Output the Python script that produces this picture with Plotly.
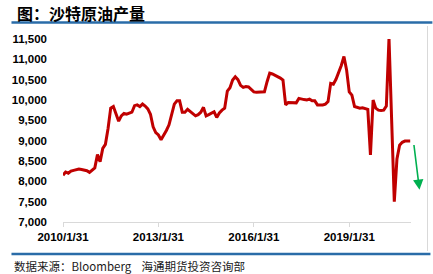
import pandas as pd
import plotly.graph_objects as go

# ---- data (thousand barrels/day), monthly from 2010-01 ----
start_month = "2010-01-31"
production = [
    8150, 8230, 8200, 8250, 8270, 8290, 8300, 8290, 8280, 8260, 8220, 8280,
    8330, 8660, 8480, 8810, 8910, 9300, 9800, 9840, 9670, 9480, 9610, 9670,
    9650, 9670, 9700, 9860, 9880, 9840, 9900, 9850, 9780, 9650, 9340, 9200,
    9140, 9020, 9120, 9250, 9390, 9670, 9900, 9980, 9980, 9700, 9700, 9770,
    9710, 9660, 9610, 9640, 9700, 9820, 9610, 9640, 9680, 9710, 9570, 9680,
    9750, 9800, 10220, 10300, 10490, 10570, 10500, 10360, 10310, 10330, 10320, 10260,
    10200, 10190, 10190, 10190, 10200, 10450, 10660, 10640, 10610, 10570, 10540, 10490,
    9880, 9940, 9940, 9930, 9930, 10040, 10020, 10010, 10000, 10020, 9980, 9980,
    9880, 9880, 9880, 9900, 9960, 10410, 10390, 10510, 10660, 10850, 11070, 10740,
    10200, 10120, 9840, 9810, 9800, 9810, 9790, 9770, 8650, 10000, 9800, 9750,
    9740, 9750, 9850, 11520, 9500, 7500, 8550, 8890, 8960, 8990, 8990, 8990,
]
tick_labels = ["2010/1/31", "2013/1/31", "2016/1/31", "2019/1/31"]
y_ticks = [7000, 7500, 8000, 8500, 9000, 9500, 10000, 10500, 11000, 11500]
arrow_target_value = 7790

title_text = "图：沙特原油产量"
source_text = "数据来源：Bloomberg    海通期货投资咨询部"

months = pd.date_range(start_month, periods=len(production), freq="ME")
month_labels = [f"{d.year}/{d.month}/{d.day}" for d in months]
idx = list(range(len(production)))
tick_vals = [month_labels.index(t) for t in tick_labels]

# ---- layout geometry (pixels) ----
W, H = 433, 274
L, R, T, B = 53, 22, 39, 52
PW, PH = W - L - R, H - T - B
X_RANGE = [0, len(production) - 0.7]
Y_RANGE = [7000, 11500]


def px_x(x):
    return (x - L) / PW


def px_y(y):
    return (H - B - y) / PH


def data_x(v):
    return (v - X_RANGE[0]) / (X_RANGE[1] - X_RANGE[0])


def data_y(v):
    return (v - Y_RANGE[0]) / (Y_RANGE[1] - Y_RANGE[0])


fig = go.Figure()
fig.add_trace(go.Scatter(
    x=idx, y=production, mode="lines",
    line=dict(color="#C00000", width=3),
    hoverinfo="skip", showlegend=False,
))

num_font = dict(family="Liberation Sans, Arial, sans-serif", size=11.5,
                color="#000000", weight="bold")
cjk = "Noto Sans CJK SC, sans-serif"

fig.update_layout(
    width=W, height=H, autosize=False,
    margin=dict(l=L, r=R, t=T, b=B, pad=0),
    paper_bgcolor="white", plot_bgcolor="white",
    xaxis=dict(
        range=X_RANGE,
        tickvals=tick_vals, ticktext=tick_labels,
        tickfont=num_font, showgrid=False, zeroline=False,
        showline=True, linecolor="#D9D9D9", linewidth=1,
        ticks="outside", ticklen=4, tickcolor="#D9D9D9",
        ticklabelstandoff=0,
    ),
    yaxis=dict(
        range=Y_RANGE, tickvals=y_ticks, tickformat=",d",
        tickfont=num_font, showgrid=False, zeroline=False,
        showline=False, ticks="", ticklabelstandoff=15,
    ),
    separators=".,",
)

# title and source
fig.add_annotation(text=title_text, xref="paper", yref="paper",
                   x=px_x(4), y=px_y(13), xanchor="left", yanchor="middle",
                   showarrow=False,
                   font=dict(family=cjk, size=16, color="#000000", weight="bold"))
fig.add_annotation(text=source_text, xref="paper", yref="paper",
                   x=px_x(1), y=px_y(266), xanchor="left", yanchor="middle",
                   showarrow=False,
                   font=dict(family=cjk, size=11.5, color="#1a1a1a"))

# decorative rules
fig.add_shape(type="line", xref="paper", yref="paper",
              x0=px_x(0), x1=px_x(W), y0=px_y(22.5), y1=px_y(22.5),
              line=dict(color="#2A6CA8", width=2.5))
fig.add_shape(type="line", xref="paper", yref="paper",
              x0=px_x(0), x1=px_x(431), y0=px_y(254), y1=px_y(254),
              line=dict(color="#2A6CA8", width=2.5))
fig.add_shape(type="line", xref="paper", yref="paper",
              x0=px_x(428), x1=px_x(428), y0=px_y(26), y1=px_y(251),
              line=dict(color="#D9D9D9", width=1))

# green trend arrow after the last value (paper coords so it is not hidden)
n = len(production)
head_x, head_y = data_x(n + 2.5), data_y(arrow_target_value)
tail_x, tail_y = data_x(n + 0.4), data_y(production[-1] - 60)
fig.add_annotation(
    x=head_x, y=head_y, xref="paper", yref="paper",
    ax=(tail_x - head_x) * PW, ay=-(tail_y - head_y) * PH,
    axref="pixel", ayref="pixel",
    showarrow=True, arrowhead=2, arrowsize=1.3, arrowwidth=1.6,
    arrowcolor="#00B050", text="",
)

fig.write_html("out.html")
